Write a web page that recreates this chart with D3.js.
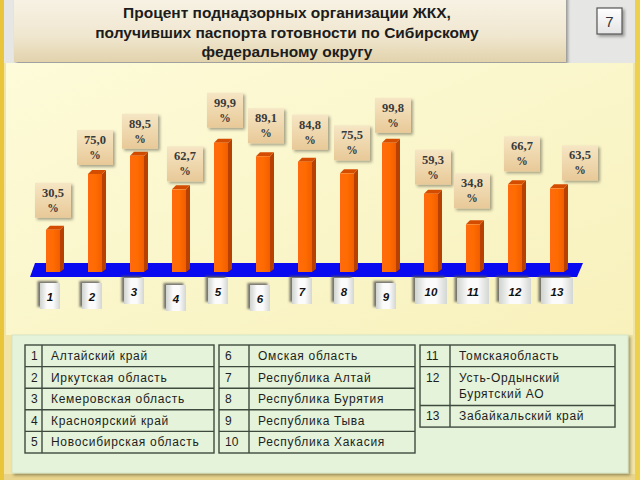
<!DOCTYPE html>
<html>
<head>
<meta charset="utf-8">
<script src="https://cdn.jsdelivr.net/npm/d3@7"></script>
<style>
  html, body { margin: 0; padding: 0; background: #f1e4a4; }
  svg { display: block; }
</style>
</head>
<body>
<div id="chart"></div>
<script>
// --- data ---
const regionIds = [1, 2, 3, 4, 5, 6, 7, 8, 9, 10, 11, 12, 13];
const percentValues = [30.5, 75.0, 89.5, 62.7, 99.9, 89.1, 84.8, 75.5, 99.8, 59.3, 34.8, 66.7, 63.5];
const regionNames = [
  "Алтайский край", "Иркутская область", "Кемеровская область", "Красноярский край",
  "Новосибирская область", "Омская область", "Республика Алтай", "Республика Бурятия",
  "Республика Тыва", "Республика Хакасия", "Томскаяобласть", "Усть-Ордынский\nБурятский АО",
  "Забайкальский край"
];
const titleLines = [
  "Процент поднадзорных организации ЖКХ,",
  "получивших паспорта готовности по Сибирскому",
  "федеральному округу"
];
const slideNumber = "7";

// layout tweaks (label boxes and number tags are hand placed in the original)
const labelNudge = [[0, 12], [0, 9], [3, 7], [6, 8], [4, 15], [3, 13], [5, 12], [5, 13], [4, 10], [2, 9], [-1, 16], [7, 13], [23, 8]];
const tagDrop = [5, 5, 0, 7, 0, 7, 0, 0, 5, 0, 0, 0, 0];

const W = 640, H = 480;
const svg = d3.select("#chart").append("svg").attr("width", W).attr("height", H);
const defs = svg.append("defs");

function linGrad(id, stops, x2, y2) {
  const g = defs.append("linearGradient").attr("id", id)
    .attr("x1", 0).attr("y1", 0).attr("x2", x2).attr("y2", y2);
  stops.forEach(s => g.append("stop").attr("offset", s[0]).attr("stop-color", s[1]));
}
linGrad("titleGrad", [[0, "#f8f3e6"], [0.6, "#f0e7d0"], [1, "#e2d3ac"]], 0, 1);
linGrad("panelGrad", [[0, "#fdfbd9"], [1, "#f8f1bc"]], 1, 1);
linGrad("labelGrad", [[0, "#f6e6c4"], [1, "#e8c998"]], 0, 1);
linGrad("tagGrad", [[0, "#cfd3cf"], [0.35, "#fbfbfb"], [0.65, "#fbfbfb"], [1, "#d3d6d3"]], 1, 0);
linGrad("barGrad", [[0, "#ff6a10"], [0.5, "#ff6c00"], [1, "#f25e00"]], 1, 0);
linGrad("numGrad", [[0, "#ffffff"], [1, "#e4e4e4"]], 0, 1);

const shadow = defs.append("filter").attr("id", "shadow")
  .attr("x", "-20%").attr("y", "-20%").attr("width", "140%").attr("height", "140%");
shadow.append("feDropShadow").attr("dx", 2).attr("dy", 2).attr("stdDeviation", 1.5)
  .attr("flood-color", "#000").attr("flood-opacity", 0.35);
const tagShadow = defs.append("filter").attr("id", "tagShadow")
  .attr("x", "-40%").attr("y", "-40%").attr("width", "180%").attr("height", "180%");
tagShadow.append("feDropShadow").attr("dx", -2.5).attr("dy", -2).attr("stdDeviation", 0.8)
  .attr("flood-color", "#555").attr("flood-opacity", 0.8);

// --- frame ---
svg.append("rect").attr("x", 0).attr("y", 0).attr("width", W).attr("height", H).attr("fill", "#f1e4a4");
svg.append("rect").attr("x", 4).attr("y", 0).attr("width", 631).attr("height", 63).attr("fill", "#e6e6e4");
svg.append("rect").attr("x", 0).attr("y", 0).attr("width", 4).attr("height", H).attr("fill", "#e9c53c");
svg.append("rect").attr("x", 635).attr("y", 0).attr("width", 5).attr("height", H).attr("fill", "#ecd04e");
svg.append("rect").attr("x", 4).attr("y", 474).attr("width", 631).attr("height", 6).attr("fill", "#e8d48c");

// title box
svg.append("rect").attr("x", 14).attr("y", -4).attr("width", 552).attr("height", 66)
  .attr("fill", "url(#titleGrad)").attr("filter", "url(#shadow)");
svg.append("g").selectAll("text").data(titleLines).join("text")
  .attr("x", 287).attr("y", (d, i) => 18 + i * 19.5)
  .attr("text-anchor", "middle")
  .attr("font-family", "Liberation Sans, Arial, sans-serif")
  .attr("font-weight", "bold").attr("font-size", 15.5).attr("fill", "#1c1c1c")
  .text(d => d);

// slide number box
svg.append("rect").attr("x", 597).attr("y", 8).attr("width", 25).attr("height", 26)
  .attr("fill", "url(#numGrad)").attr("stroke", "#555").attr("stroke-width", 1.2)
  .attr("filter", "url(#shadow)");
svg.append("text").attr("x", 609.5).attr("y", 27).attr("text-anchor", "middle")
  .attr("font-family", "Liberation Sans, Arial, sans-serif").attr("font-size", 15)
  .attr("fill", "#333").text(slideNumber);

// chart panel
svg.append("rect").attr("x", 6).attr("y", 63).attr("width", 627).attr("height", 272)
  .attr("fill", "url(#panelGrad)");

// --- scales ---
const x = d3.scalePoint().domain(regionIds).range([53, 557]);
const y = d3.scaleLinear().domain([0, 100]).range([268, 142.6]);
const fmt = v => d3.format(".1f")(v).replace(".", ",");

const barW = 14, depth = 4;
const baseTop = 263, baseBot = 277;

// blue base
const bx0 = x(regionIds[0]) - 18, bx1 = x(regionIds[regionIds.length - 1]) + 26;
svg.append("path")
  .attr("d", `M${bx0},${baseTop}L${bx1},${baseTop}L${bx1 - 6},${baseBot}L${bx0 - 5},${baseBot}Z`)
  .attr("fill", "#0a0af0");

const data = regionIds.map((id, i) => ({ id, v: percentValues[i], i }));

// bars
const bars = svg.append("g").selectAll("g").data(data).join("g");
bars.append("path") // side
  .attr("d", d => {
    const x1 = x(d.id) + barW / 2, t = y(d.v);
    return `M${x1},${t}L${x1 + depth},${t - depth}L${x1 + depth},${baseBot - 8}L${x1},${baseBot - 5}Z`;
  })
  .attr("fill", "#b84000");
bars.append("path") // top
  .attr("d", d => {
    const x0 = x(d.id) - barW / 2, t = y(d.v);
    return `M${x0},${t}L${x0 + depth},${t - depth}L${x0 + barW + depth},${t - depth}L${x0 + barW},${t}Z`;
  })
  .attr("fill", "#d44c00");
bars.append("rect")
  .attr("x", d => x(d.id) - barW / 2)
  .attr("y", d => y(d.v))
  .attr("width", barW)
  .attr("height", d => baseBot - 5 - y(d.v))
  .attr("fill", "url(#barGrad)");

// value labels
const lw = 36, lh = 35;
const labels = svg.append("g").selectAll("g").data(data).join("g")
  .attr("transform", d => {
    const n = labelNudge[d.i];
    const cx = x(d.id) + n[0];
    const bottom = y(d.v) - depth - n[1] + 4;
    return `translate(${cx - lw / 2},${bottom - lh})`;
  });
labels.append("rect").attr("width", lw).attr("height", lh)
  .attr("fill", "url(#labelGrad)").attr("filter", "url(#shadow)");
labels.append("text").attr("x", lw / 2).attr("y", 14).attr("text-anchor", "middle")
  .attr("font-family", "Liberation Serif, Times New Roman, serif").attr("font-weight", "bold")
  .attr("font-size", 12.5).attr("fill", "#3a3a3a")
  .text(d => fmt(d.v));
labels.append("text").attr("x", lw / 2).attr("y", 29).attr("text-anchor", "middle")
  .attr("font-family", "Liberation Serif, Times New Roman, serif").attr("font-weight", "bold")
  .attr("font-size", 11.5).attr("fill", "#3a3a3a")
  .text("%");

// number tags under the base
const tags = svg.append("g").selectAll("g").data(data).join("g")
  .attr("transform", d => {
    const w = d.id > 9 ? 32 : 20;
    return `translate(${x(d.id) - 3 - w / 2 + (d.id > 9 ? 3 : 0)},${278 + tagDrop[d.i]})`;
  });
tags.append("rect")
  .attr("width", d => d.id > 9 ? 32 : 20).attr("height", 26)
  .attr("fill", "url(#tagGrad)").attr("filter", "url(#tagShadow)");
tags.append("text")
  .attr("x", d => (d.id > 9 ? 32 : 20) / 2).attr("y", 18).attr("text-anchor", "middle")
  .attr("font-family", "Liberation Sans, Arial, sans-serif").attr("font-weight", "bold")
  .attr("font-style", "italic").attr("font-size", 11.5).attr("fill", "#111")
  .text(d => d.id);

// --- legend tables ---
svg.append("rect").attr("x", 12).attr("y", 335).attr("width", 616).attr("height", 138)
  .attr("fill", "#e4f3d9").attr("stroke", "#cfe0c4").attr("stroke-width", 0.8)
  .attr("filter", "url(#shadow)");

const tableCols = [
  { rows: [0, 1, 2, 3, 4], x0: 25, xd: 42, x1: 214 },
  { rows: [5, 6, 7, 8, 9], x0: 219, xd: 249, x1: 415 },
  { rows: [10, 11, 12], x0: 420, xd: 450, x1: 615 }
];
const lineH = 21.6, tTop = 345;

tableCols.forEach(tc => {
  const g = svg.append("g");
  let yy = tTop;
  const rowsLaid = tc.rows.map(r => {
    const lines = regionNames[r].split("\n");
    const h = lines.length > 1 ? lineH * 1.8 : lineH;
    const row = { r, lines, y0: yy, h };
    yy += h;
    return row;
  });
  const tBottom = yy;
  g.append("rect").attr("x", tc.x0).attr("y", tTop).attr("width", tc.x1 - tc.x0).attr("height", tBottom - tTop)
    .attr("fill", "none").attr("stroke", "#3f4a3f").attr("stroke-width", 1.4);
  g.append("line").attr("x1", tc.xd).attr("x2", tc.xd).attr("y1", tTop).attr("y2", tBottom)
    .attr("stroke", "#3f4a3f").attr("stroke-width", 1.4);
  rowsLaid.forEach((row, k) => {
    if (k > 0) {
      g.append("line").attr("x1", tc.x0).attr("x2", tc.x1).attr("y1", row.y0).attr("y2", row.y0)
        .attr("stroke", "#3f4a3f").attr("stroke-width", 1.4);
    }
    g.append("text").attr("x", tc.x0 + 6).attr("y", row.y0 + 15)
      .attr("font-family", "Liberation Sans, Arial, sans-serif").attr("font-size", 12)
      .attr("fill", "#1e1e1e").text(regionIds[row.r]);
    row.lines.forEach((ln, j) => {
      g.append("text").attr("x", tc.xd + 9).attr("y", row.y0 + 15 + j * 16)
        .attr("font-family", "Liberation Sans, Arial, sans-serif").attr("font-size", 12)
        .attr("letter-spacing", 0.7).attr("fill", "#1e1e1e").text(ln);
    });
  });
});
</script>
</body>
</html>
